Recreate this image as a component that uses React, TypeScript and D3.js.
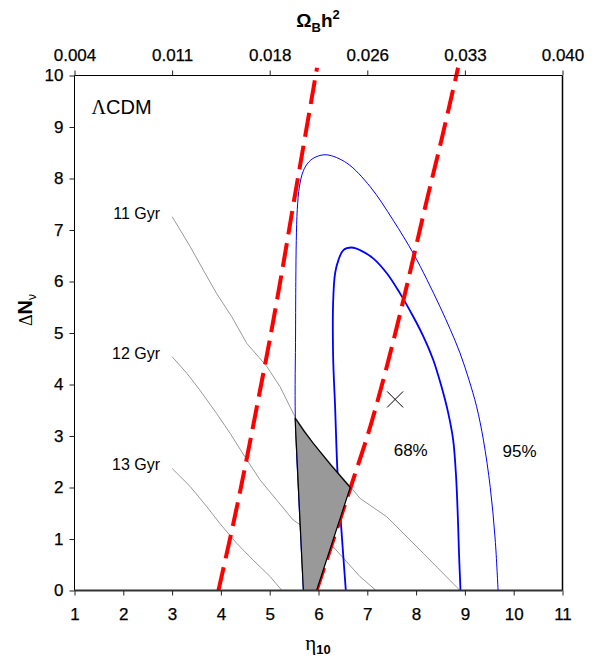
import React, { useEffect, useRef } from "react";
import * as d3 from "d3";

type P = [number, number];

const xTicks = [1, 2, 3, 4, 5, 6, 7, 8, 9, 10, 11];
const yTicks = [0, 1, 2, 3, 4, 5, 6, 7, 8, 9, 10];
const topTickEta = [1, 3, 5, 7, 9, 11];
const topTickLabels = ["0.004", "0.011", "0.018", "0.026", "0.033", "0.040"];

// 95% contour (eta10, dN)
const contour95: P[] = [
  [9.68, 0], [9.62, 1.0], [9.52, 2.0], [9.38, 2.92], [9.24, 3.57], [9.08, 4.1],
  [8.9, 4.61], [8.7, 5.07], [8.49, 5.51], [8.22, 6.04], [7.94, 6.55], [7.53, 7.19],
  [7.06, 7.84], [6.58, 8.3], [6.17, 8.46], [5.95, 8.42], [5.8, 8.32], [5.69, 8.15],
  [5.61, 7.85], [5.565, 7.4], [5.545, 6.8], [5.535, 6.0], [5.53, 5.0], [5.525, 3.37],
  [5.6, 1.7], [5.69, 0],
];
// 68% contour
const contour68: P[] = [
  [8.91, 0], [8.88, 0.7], [8.86, 1.3], [8.82, 2.2], [8.76, 2.92], [8.66, 3.44],
  [8.52, 3.96], [8.35, 4.48], [8.15, 4.93], [7.94, 5.32], [7.67, 5.77], [7.4, 6.16],
  [7.12, 6.45], [6.85, 6.61], [6.68, 6.66], [6.51, 6.61], [6.41, 6.42], [6.34, 6.16],
  [6.3, 5.6], [6.3, 4.54], [6.34, 3.57], [6.39, 2.28], [6.46, 1.3], [6.56, 0],
];
// age isochrones
const gyr11: P[] = [
  [3.0, 7.26], [3.37, 6.68], [3.64, 6.22], [3.91, 5.77], [4.22, 5.32], [4.53, 4.8],
  [4.94, 4.35], [5.21, 3.96], [5.52, 3.37], [5.89, 2.86], [6.65, 2.02], [6.85, 1.79],
  [7.4, 1.43], [8.15, 0.72], [8.9, 0],
];
const gyr12: P[] = [
  [3.0, 4.54], [3.3, 4.22], [3.57, 3.89], [3.91, 3.44], [4.19, 3.05], [4.49, 2.6],
  [4.8, 2.15], [5.14, 1.76], [5.48, 1.37], [5.9, 1.1], [6.3, 0.85], [6.85, 0.27], [7.18, 0],
];
const gyr13: P[] = [
  [3.0, 2.37], [3.37, 2.02], [3.71, 1.63], [3.98, 1.3], [4.32, 0.92], [4.66, 0.59],
  [5.01, 0.27], [5.25, 0],
];
const gyrLabels = ["11 Gyr", "12 Gyr", "13 Gyr"];
// deuterium bounds (red dashed)
const redLeft: P[] = [
  [3.95, 0], [4.3, 1.5], [4.55, 2.66], [4.79, 3.83], [5.0, 4.86], [5.27, 6.29],
  [5.5, 7.58], [5.97, 10.15],
];
const redRight: P[] = [
  [5.96, 0], [6.65, 1.98], [7.06, 3.18], [7.4, 4.35], [7.74, 5.64], [8.22, 7.58],
  [8.52, 8.75], [8.86, 10.15],
];
// allowed region
const allowed: P[] = [
  [5.52, 3.35], [5.7, 3.1], [5.89, 2.86], [6.25, 2.44], [6.65, 2.0], [5.96, 0], [5.69, 0],
];
const bestFit: P = [7.57, 3.71];

const W = 602;
const H = 668;

export default function App() {
  const ref = useRef<SVGSVGElement | null>(null);
  const x = d3.scaleLinear().domain([1, 11]).range([74.5, 562.5]);
  const y = d3.scaleLinear().domain([0, 10]).range([590.5, 75.5]);

  const smooth = d3
    .line<P>()
    .x((d) => x(d[0]))
    .y((d) => y(d[1]))
    .curve(d3.curveCatmullRom.alpha(0.5));
  const straight = d3
    .line<P>()
    .x((d) => x(d[0]))
    .y((d) => y(d[1]));
  const poly = d3
    .line<P>()
    .x((d) => x(d[0]))
    .y((d) => y(d[1]))
    .curve(d3.curveLinearClosed);

  const font = "'Liberation Sans', Arial, Helvetica, sans-serif";

  useEffect(() => {
    if (!ref.current) return;
    const svg = d3.select(ref.current);
    svg.selectAll("g.axis").remove();
    const bottom = svg
      .append("g")
      .attr("class", "axis")
      .attr("transform", `translate(0,${y(0)})`)
      .call(d3.axisBottom(x).tickValues(xTicks).tickSize(5).tickPadding(12).tickFormat(d3.format("d")));
    const left = svg
      .append("g")
      .attr("class", "axis")
      .attr("transform", `translate(${x(1)},0)`)
      .call(d3.axisLeft(y).tickValues(yTicks).tickSize(5).tickPadding(6).tickFormat(d3.format("d")));
    const top = svg
      .append("g")
      .attr("class", "axis")
      .attr("transform", `translate(0,${y(10)})`)
      .call(
        d3
          .axisTop(x)
          .tickValues(topTickEta)
          .tickSize(5)
          .tickPadding(10)
          .tickFormat((_d, i) => topTickLabels[i])
      );
    [bottom, left, top].forEach((g) => {
      g.select(".domain").remove();
      g.selectAll("line").attr("stroke", "#222").attr("stroke-width", 1);
      g.selectAll("text")
        .attr("font-family", font)
        .attr("font-size", 17)
        .attr("fill", "#000")
        .attr("stroke", "#000")
        .attr("stroke-width", 0.25);
    });
  }, []);

  return (
    <div style={{ position: "absolute", left: 0, top: 0 }}>
      <svg ref={ref} width={W} height={H} style={{ display: "block", background: "#fff" }}>
        <rect x={0} y={0} width={W} height={H} fill="#fff" />
        {/* isochrones */}
        {[gyr11, gyr12, gyr13].map((g, i) => (
          <path key={i} d={straight(g) || ""} fill="none" stroke="#999" strokeWidth={1} strokeLinejoin="round" />
        ))}
        {[gyr11, gyr12, gyr13].map((g, i) => (
          <text
            key={"l" + i}
            x={x(g[0][0]) - 12}
            y={y(g[0][1]) + 2}
            textAnchor="end"
            fontFamily={font}
            fontSize={16}
          >
            {gyrLabels[i]}
          </text>
        ))}
        {/* contours */}
        <path d={smooth(contour95) || ""} fill="none" stroke="#0000ff" strokeWidth={1} />
        <path d={smooth(contour68) || ""} fill="none" stroke="#0000ff" strokeWidth={1.8} />
        {/* red dashed */}
        {[redLeft, redRight].map((r, i) => (
          <path
            key={"r" + i}
            d={smooth(r) || ""}
            fill="none"
            stroke="#ff0000"
            strokeWidth={4}
            strokeDasharray="24,9"
          />
        ))}
        {/* allowed region */}
        <path d={poly(allowed) || ""} fill="#999999" stroke="#000" strokeWidth={1.2} strokeLinejoin="round" />
        {/* best fit */}
        <path
          d={`M${x(bestFit[0]) - 8},${y(bestFit[1]) - 8}L${x(bestFit[0]) + 8},${y(bestFit[1]) + 8}M${x(bestFit[0]) - 8},${y(bestFit[1]) + 8}L${x(bestFit[0]) + 8},${y(bestFit[1]) - 8}`}
          stroke="#000"
          strokeWidth={1}
        />
        <text x={x(7.89)} y={y(2.62)} textAnchor="middle" fontFamily={font} fontSize={17}>
          68%
        </text>
        <text x={x(10.12)} y={y(2.59)} textAnchor="middle" fontFamily={font} fontSize={17}>
          95%
        </text>
        {/* frame */}
        <line x1={x(1)} x2={x(11)} y1={y(10)} y2={y(10)} stroke="#000" strokeWidth={1} />
        <line x1={x(11)} x2={x(11)} y1={y(10)} y2={y(0)} stroke="#000" strokeWidth={1.5} />
        <line x1={x(1)} x2={x(1)} y1={y(10)} y2={y(0)} stroke="#000" strokeWidth={1} />
        <line x1={x(1)} x2={x(11)} y1={y(0)} y2={y(0)} stroke="#333" strokeWidth={2} />
        <text x={x(1) + 17} y={y(10) + 38} fontFamily={font} fontSize={20}>
          <tspan fontFamily="'Liberation Serif', 'Times New Roman', serif">Λ</tspan>CDM
        </text>
        {/* axis titles */}
        <text x={318} y={27} textAnchor="middle" fontFamily={font} fontSize={19} fontWeight="bold">
          Ω<tspan fontSize={13} dy={5}>B</tspan>
          <tspan dy={-5}>h</tspan>
          <tspan fontSize={13} dy={-8}>2</tspan>
        </text>
        <text x={318} y={650} textAnchor="middle" fontFamily={font} fontSize={19}>
          <tspan fontFamily="'Liberation Serif', 'Times New Roman', serif" fontSize={21}>η</tspan>
          <tspan fontSize={13} fontWeight="bold" dy={4}>10</tspan>
        </text>
        <text
          transform={`translate(32,310) rotate(-90)`}
          textAnchor="middle"
          fontFamily={font}
          fontSize={20}
        >
          <tspan fontFamily="'Liberation Serif', 'Times New Roman', serif" fontSize={18}>Δ</tspan>
          <tspan fontWeight="bold">N</tspan>
          <tspan fontSize={12} dy={4}>ν</tspan>
        </text>
      </svg>
    </div>
  );
}
